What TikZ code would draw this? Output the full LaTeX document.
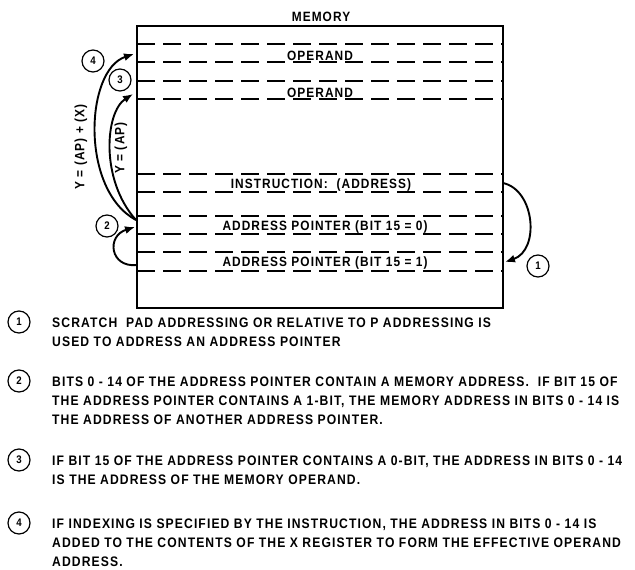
\documentclass[tikz,border=0pt]{standalone}
\usepackage{fontspec}
\setmainfont{Liberation Sans}[LetterSpace=8, FakeStretch=0.88]
\usetikzlibrary{arrows.meta}
\begin{document}
\begin{tikzpicture}[x=1pt,y=-1pt,
  txt/.style={font=\bfseries\fontsize{13.5}{16}\selectfont, inner sep=0pt, anchor=base},
  num/.style={circle, draw, line width=1.2pt, minimum size=22pt, inner sep=0pt, font=\bfseries\fontsize{11}{13}\selectfont},
  rowline/.style={dash pattern=on 18pt off 8pt, line width=1.3pt},
  arr/.style={line width=1.9pt, -{Latex[length=10pt,width=8pt]}},
  desc/.style={anchor=base west, inner sep=0pt, font=\bfseries\fontsize{13.8}{16}\selectfont}
]
\useasboundingbox (0,0) rectangle (635,570);
% memory box
\node[txt] (mem) at (321,21) {MEMORY};
\node[draw, line width=1.8pt, minimum width=366pt, minimum height=282pt, inner sep=0pt] (box) at (320,167) {};
\foreach \yy in {44,62,81,99,174,192,216,234,252,271}{
  \draw[rowline] (137,\yy) -- (503,\yy);
}
\node[txt] (op1) at (320,60) {OPERAND};
\node[txt] (op2) at (320,97) {OPERAND};
\node[txt] (ins) at (321,188) {INSTRUCTION:\ \ (ADDRESS)};
\node[txt] (ap0) at (325,230) {ADDRESS POINTER (BIT 15 = 0)};
\node[txt] (ap1) at (325,266) {ADDRESS POINTER (BIT 15 = 1)};
% circled numbers
\node[num] (c4) at (93,61) {4};
\node[num] (c3) at (120,80) {3};
\node[num] (c2) at (107,226) {2};
\node[num] (c1) at (538,266) {1};
% anchor points on box edges
\coordinate (insR) at (503,183);
\coordinate (ap1R) at (505,262);
\coordinate (ap1L) at (137,265);
\coordinate (ap0L) at (135,227);
\coordinate (src) at (136,220);
\coordinate (op2L) at (133,94);
\coordinate (op1L) at (134,54);
% arrows
\draw[arr] (insR) .. controls (535,190) and (540,250) .. (ap1R);
\draw[arr] (ap1L) .. controls (110,268) and (106,236) .. (ap0L);
\draw[arr] (src) .. controls (100,180) and (105,112) .. (op2L);
\draw[arr] (src) .. controls (80,190) and (85,70) .. (op1L);
\node[txt, rotate=90, anchor=center] (lab4) at (81,147) {Y = (AP) + (X)};
\node[txt, rotate=90, anchor=center] (lab3) at (121,148) {Y = (AP)};
% descriptions
\node[num] (d1) at (19,322) {1};
\node[desc] (t1a) at (52,327) {SCRATCH\ \ PAD ADDRESSING OR RELATIVE TO P ADDRESSING IS};
\node[desc] (t1b) at (52,346) {USED TO ADDRESS AN ADDRESS POINTER};
\node[num] (d2) at (19,381) {2};
\node[desc] (t2a) at (52,386) {BITS 0 - 14 OF THE ADDRESS POINTER CONTAIN A MEMORY ADDRESS.\ \ IF BIT 15 OF};
\node[desc] (t2b) at (52,405) {THE ADDRESS POINTER CONTAINS A 1-BIT, THE MEMORY ADDRESS IN BITS 0 - 14 IS};
\node[desc] (t2c) at (52,424) {THE ADDRESS OF ANOTHER ADDRESS POINTER.};
\node[num] (d3) at (19,460) {3};
\node[desc] (t3a) at (52,465) {IF BIT 15 OF THE ADDRESS POINTER CONTAINS A 0-BIT, THE ADDRESS IN BITS 0 - 14};
\node[desc] (t3b) at (52,484) {IS THE ADDRESS OF THE MEMORY OPERAND.};
\node[num] (d4) at (19,523) {4};
\node[desc] (t4a) at (52,528) {IF INDEXING IS SPECIFIED BY THE INSTRUCTION, THE ADDRESS IN BITS 0 - 14 IS};
\node[desc] (t4b) at (52,547) {ADDED TO THE CONTENTS OF THE X REGISTER TO FORM THE EFFECTIVE OPERAND};
\node[desc] (t4c) at (52,566) {ADDRESS.};
\end{tikzpicture}
\end{document}
